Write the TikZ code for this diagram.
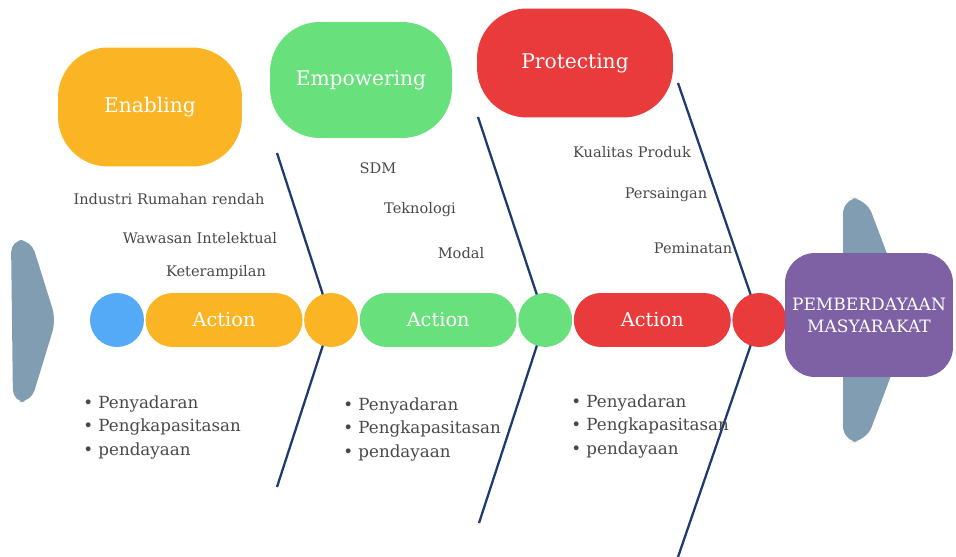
\documentclass[tikz,border=0pt]{standalone}
\usepackage{fontspec}
\setmainfont{DejaVu Serif}
\usetikzlibrary{positioning}
\usetikzlibrary{backgrounds}
\definecolor{sunflower}{RGB}{251, 181, 36}
\definecolor{mint}{RGB}{104, 224, 124}
\definecolor{cherry}{RGB}{233, 58, 60}
\definecolor{sky}{RGB}{84, 170, 246}
\definecolor{grape}{RGB}{126, 96, 165}
\definecolor{slate}{RGB}{128, 157, 178}
\definecolor{navy}{RGB}{30, 58, 112}
\definecolor{ink}{RGB}{72, 72, 72}

\begin{document}
\begin{tikzpicture}[x=0.02cm, y=-0.02cm,
    pill/.style={rounded corners=0.54cm, minimum width=3.14cm, minimum height=1.08cm,
                 inner sep=0pt, text=white, font=\fontsize{11}{13}\selectfont},
    knot/.style={circle, minimum size=1.08cm, inner sep=0pt},
    head/.style={rounded corners=1.0cm, inner sep=0pt, text=white, font=\fontsize{11.5}{14}\selectfont},
    cause/.style={text=ink, font=\fontsize{8.3}{10}\selectfont},
    bullets/.style={text=ink, align=left, anchor=north west, inner sep=0pt,
                    font=\fontsize{9.5}{13.5}\selectfont},
    bone/.style={navy, line width=1.3pt}]
        \useasboundingbox (0,0) rectangle (956,557);
        % tail and head of the fish
        \fill[slate, rounded corners=7pt]  ( 11,240) -- ( 31,240) -- ( 56,320) -- ( 31,402) -- ( 13,402) -- cycle;
        \fill[slate, rounded corners=9pt]  (843,198) -- (866,198) -- (912,320) -- (866,442) -- (843,442) -- cycle;
        % spine
        \node[knot, fill=sky]                              (dot0) at (117,320) {};
        \node[pill, fill=sunflower, right=0.5pt of dot0]   (act1) {Action};
        \node[knot, fill=sunflower, right=0.5pt of act1]   (dot1) {};
        \node[pill, fill=mint,      right=0.5pt of dot1]   (act2) {Action};
        \node[knot, fill=mint,      right=0.5pt of act2]   (dot2) {};
        \node[pill, fill=cherry,    right=0.5pt of dot2]   (act3) {Action};
        \node[knot, fill=cherry,    right=0.5pt of act3]   (dot3) {};
        \node[fill=grape, rounded corners=0.6cm, minimum width=3.36cm, minimum height=2.48cm,
              text=white, align=center, font=\fontsize{9.7}{12.5}\selectfont] (goal) at (869,315)
              {PEMBERDAYAAN\\MASYARAKAT};
        % categories
        \node[head, fill=sunflower, minimum width=3.68cm, minimum height=2.38cm] (enabling)   at (150,107) {Enabling};
        \node[head, fill=mint,      minimum width=3.64cm, minimum height=2.32cm] (empowering) at (361, 80) {Empowering};
        \node[head, fill=cherry,    minimum width=3.92cm, minimum height=2.18cm] (protecting) at (575, 63) {Protecting};
        % causes
        \node[cause] (rumahan)    at (169,199) {Industri Rumahan rendah};
        \node[cause] (wawasan)    at (200,238) {Wawasan Intelektual};
        \node[cause] (terampil)   at (216,272) {Keterampilan};
        \node[cause] (sdm)        at (378,168) {SDM};
        \node[cause] (teknologi)  at (420,210) {Teknologi};
        \node[cause] (modal)      at (461,253) {Modal};
        \node[cause] (kualitas)   at (632,152) {Kualitas Produk};
        \node[cause] (saing)      at (666,195) {Persaingan};
        \node[cause] (minat)      at (693,248) {Peminatan};
        % actions
        \node[bullets] (list1) at ( 83,395) {• Penyadaran\\• Pengkapasitasan\\• pendayaan};
        \node[bullets] (list2) at (343,397) {• Penyadaran\\• Pengkapasitasan\\• pendayaan};
        \node[bullets] (list3) at (571,394) {• Penyadaran\\• Pengkapasitasan\\• pendayaan};
        % bones
        \coordinate (top1) at (277,153);  \coordinate (bot1) at (277,487);
        \coordinate (top2) at (478,117);  \coordinate (bot2) at (479,523);
        \coordinate (top3) at (678, 83);  \coordinate (bot3) at (678,557);
        \begin{scope}[on background layer]
            \draw[bone] (top1) -- (dot1.center) -- (bot1);
            \draw[bone] (top2) -- (dot2.center) -- (bot2);
            \draw[bone] (top3) -- (dot3.center) -- (bot3);
        \end{scope}
\end{tikzpicture}
\end{document}
